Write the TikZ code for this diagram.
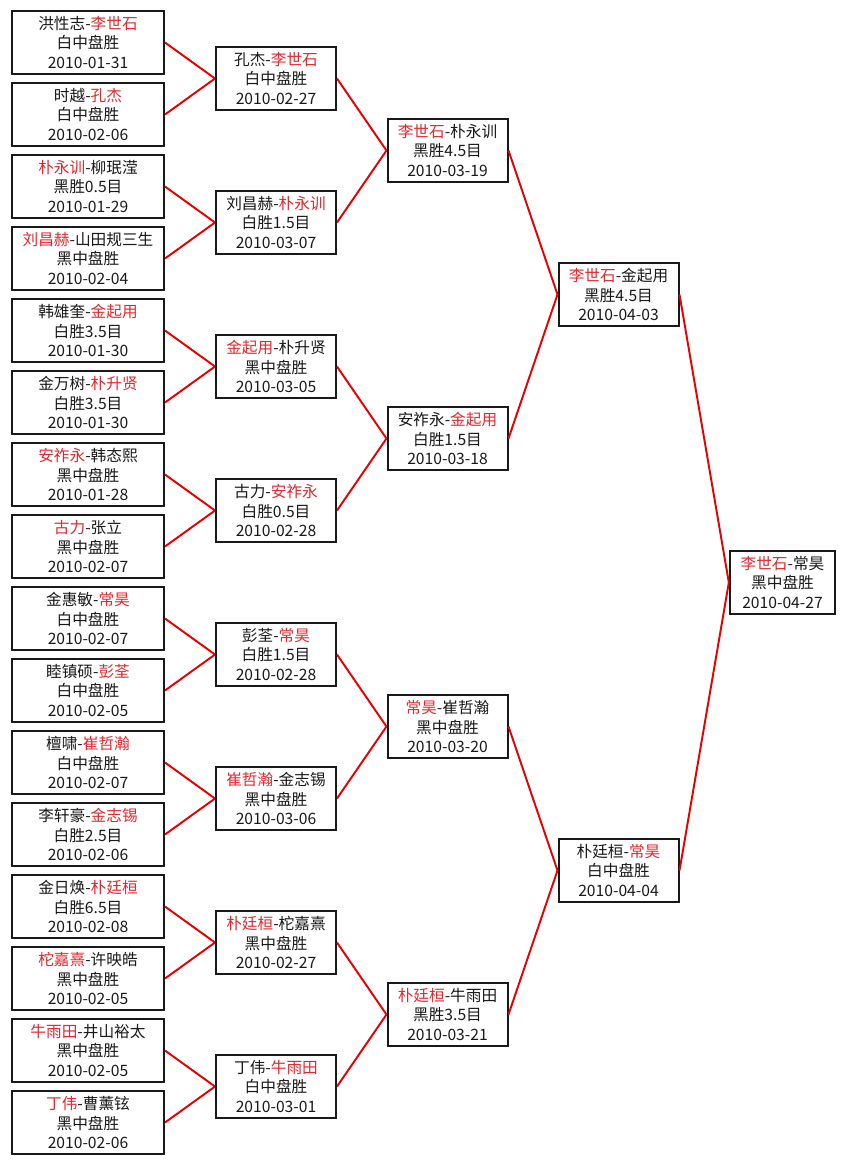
\documentclass[tikz,border=0pt]{standalone}
\usepackage{fontspec}
\setmainfont{Noto Sans CJK SC}
\usetikzlibrary{positioning}
\definecolor{winred}{RGB}{225, 40, 45}
\definecolor{linkred}{RGB}{230, 0, 0}
\definecolor{boxblack}{RGB}{25, 25, 25}
\newcommand{\win}[1]{\textcolor{winred}{#1}}
\tikzset{
  game/.style={rectangle, draw=boxblack, line width=1.5pt, text width=#1, align=center,
               minimum height=47.25pt, inner sep=0pt, text=boxblack,
               font=\fontsize{11.75}{14.5}\selectfont},
  game/.default=90pt,
  link/.style={linkred, line width=1.45pt},
}

\begin{document}
\begin{tikzpicture}[x=0.75pt, y=-0.75pt]
  \fill[white] (0,0) rectangle (846,1165);

  % round of 32
  \foreach \i/\t in {
      1/{洪性志-\win{李世石}\\白中盘胜\\2010-01-31},
      2/{时越-\win{孔杰}\\白中盘胜\\2010-02-06},
      3/{\win{朴永训}-柳珉滢\\黑胜0.5目\\2010-01-29},
      4/{\win{刘昌赫}-山田规三生\\黑中盘胜\\2010-02-04},
      5/{韩雄奎-\win{金起用}\\白胜3.5目\\2010-01-30},
      6/{金万树-\win{朴升贤}\\白胜3.5目\\2010-01-30},
      7/{\win{安祚永}-韩态熙\\黑中盘胜\\2010-01-28},
      8/{\win{古力}-张立\\黑中盘胜\\2010-02-07},
      9/{金惠敏-\win{常昊}\\白中盘胜\\2010-02-07},
      10/{睦镇硕-\win{彭荃}\\白中盘胜\\2010-02-05},
      11/{檀啸-\win{崔哲瀚}\\白中盘胜\\2010-02-07},
      12/{李轩豪-\win{金志锡}\\白胜2.5目\\2010-02-06},
      13/{金日焕-\win{朴廷桓}\\白胜6.5目\\2010-02-08},
      14/{\win{柁嘉熹}-许映皓\\黑中盘胜\\2010-02-05},
      15/{\win{牛雨田}-井山裕太\\黑中盘胜\\2010-02-05},
      16/{\win{丁伟}-曹薰铉\\黑中盘胜\\2010-02-06}} {
    \node[game=114pt] (a\i) at (88, {42.5+72*(\i-1)}) {\t};
  }

  % round of 16
  \foreach \j/\t in {
      1/{孔杰-\win{李世石}\\白中盘胜\\2010-02-27},
      2/{刘昌赫-\win{朴永训}\\白胜1.5目\\2010-03-07},
      3/{\win{金起用}-朴升贤\\黑中盘胜\\2010-03-05},
      4/{古力-\win{安祚永}\\白胜0.5目\\2010-02-28},
      5/{彭荃-\win{常昊}\\白胜1.5目\\2010-02-28},
      6/{\win{崔哲瀚}-金志锡\\黑中盘胜\\2010-03-06},
      7/{\win{朴廷桓}-柁嘉熹\\黑中盘胜\\2010-02-27},
      8/{丁伟-\win{牛雨田}\\白中盘胜\\2010-03-01}} {
    \node[game] (b\j) at (276, {78.5+144*(\j-1)}) {\t};
  }

  % quarter finals
  \foreach \k/\t in {
      1/{\win{李世石}-朴永训\\黑胜4.5目\\2010-03-19},
      2/{安祚永-\win{金起用}\\白胜1.5目\\2010-03-18},
      3/{\win{常昊}-崔哲瀚\\黑中盘胜\\2010-03-20},
      4/{\win{朴廷桓}-牛雨田\\黑胜3.5目\\2010-03-21}} {
    \node[game] (c\k) at (447.5, {150.5+288*(\k-1)}) {\t};
  }

  % semi finals
  \node[game] (d1) at (618.5, 294.5) {\win{李世石}-金起用\\黑胜4.5目\\2010-04-03};
  \node[game] (d2) at (618.5, 870.5) {朴廷桓-\win{常昊}\\白中盘胜\\2010-04-04};

  % final
  \node[game=79pt] (fin) at (782.5, 582.5) {\win{李世石}-常昊\\黑中盘胜\\2010-04-27};

  % bracket lines
  \foreach \j in {1,...,8} {
    \pgfmathtruncatemacro{\up}{2*\j-1}
    \pgfmathtruncatemacro{\dn}{2*\j}
    \draw[link] (a\up.east) -- (b\j.west);
    \draw[link] (a\dn.east) -- (b\j.west);
  }
  \foreach \k in {1,...,4} {
    \pgfmathtruncatemacro{\up}{2*\k-1}
    \pgfmathtruncatemacro{\dn}{2*\k}
    \draw[link] (b\up.east) -- (c\k.west);
    \draw[link] (b\dn.east) -- (c\k.west);
  }
  \foreach \m in {1,2} {
    \pgfmathtruncatemacro{\up}{2*\m-1}
    \pgfmathtruncatemacro{\dn}{2*\m}
    \draw[link] (c\up.east) -- (d\m.west);
    \draw[link] (c\dn.east) -- (d\m.west);
  }
  \draw[link] (d1.east) -- (fin.west);
  \draw[link] (d2.east) -- (fin.west);
\end{tikzpicture}
\end{document}
